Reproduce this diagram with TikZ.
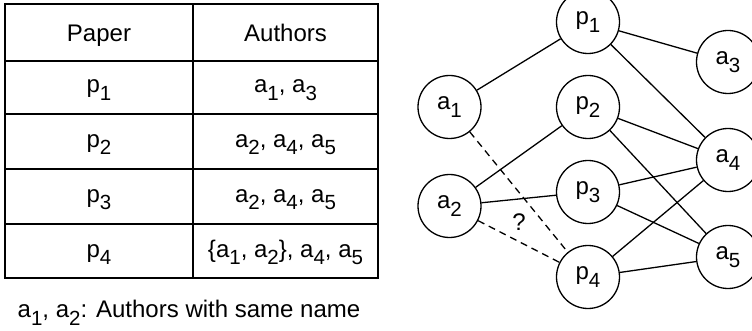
\documentclass[tikz,border=0pt]{standalone}
\usepackage{fontspec}
\setmainfont{Liberation Sans}
\newcommand\sbs[1]{\raisebox{-7.5pt}{\fontsize{20.5}{20.5}\selectfont #1}}
\begin{document}
\begin{tikzpicture}[x=1pt,y=-1pt,
  every node/.style={font=\fontsize{24}{27}\selectfont},
  vert/.style={circle,draw,line width=1.3pt,minimum size=63pt,inner sep=0pt},
  edge/.style={line width=1.3pt},
  guess/.style={line width=1.3pt,dash pattern=on 7pt off 5pt},
  rule/.style={line width=1.4pt},
  cell/.style={anchor=base,inner sep=0pt}]
\useasboundingbox (0,0) rectangle (752,331);

% paper/author table
\draw[rule] (5,4) rectangle (378,278);
\draw[rule] (193,4) -- (193,278);
\foreach \y in {61,114,169,224} \draw[rule] (5,\y) -- (378,\y);

\node[cell] (h1) at (99,41.5) {Paper};
\node[cell] (h2) at (285.5,41.5) {Authors};
\node[cell] (r1a) at (99,93) {p\sbs{1}};
\node[cell] (r1b) at (285.5,93) {a\sbs{1}, a\sbs{3}};
\node[cell] (r2a) at (99,147.5) {p\sbs{2}};
\node[cell] (r2b) at (285.5,147.5) {a\sbs{2}, a\sbs{4}, a\sbs{5}};
\node[cell] (r3a) at (99,202.5) {p\sbs{3}};
\node[cell] (r3b) at (285.5,202.5) {a\sbs{2}, a\sbs{4}, a\sbs{5}};
\node[cell] (r4a) at (99,257) {p\sbs{4}};
\node[cell] (r4b) at (285.5,257) {\{a\sbs{1}, a\sbs{2}\}, a\sbs{4}, a\sbs{5}};

\node[cell] (note) at (189,317.5) {a\sbs{1}, a\sbs{2}: Authors with same name};

% author-paper graph
\node[vert] (a1) at (449.5,107) {a\sbs{1}};
\node[vert] (a2) at (449.5,206) {a\sbs{2}};
\node[vert] (p1) at (588,22) {p\sbs{1}};
\node[vert] (p2) at (588,107) {p\sbs{2}};
\node[vert] (p3) at (588,192) {p\sbs{3}};
\node[vert] (p4) at (588,277) {p\sbs{4}};
\node[vert] (a3) at (728,62) {a\sbs{3}};
\node[vert] (a4) at (728,160) {a\sbs{4}};
\node[vert] (a5) at (728,257) {a\sbs{5}};

\draw[edge] (a1) -- (p1);
\draw[edge] (p1) -- (a3);
\draw[edge] (p1) -- (a4);
\draw[edge] (a2) -- (p2);
\draw[edge] (p2) -- (a4);
\draw[edge] (p2) -- (a5);
\draw[edge] (a2) -- (p3);
\draw[edge] (p3) -- (a4);
\draw[edge] (p3) -- (a5);
\draw[edge] (p4) -- (a4);
\draw[edge] (p4) -- (a5);
\draw[guess] (a1) -- (p4);
\draw[guess] (a2) -- (p4);
\node (q) at (519,222) {?};
\end{tikzpicture}
\end{document}
